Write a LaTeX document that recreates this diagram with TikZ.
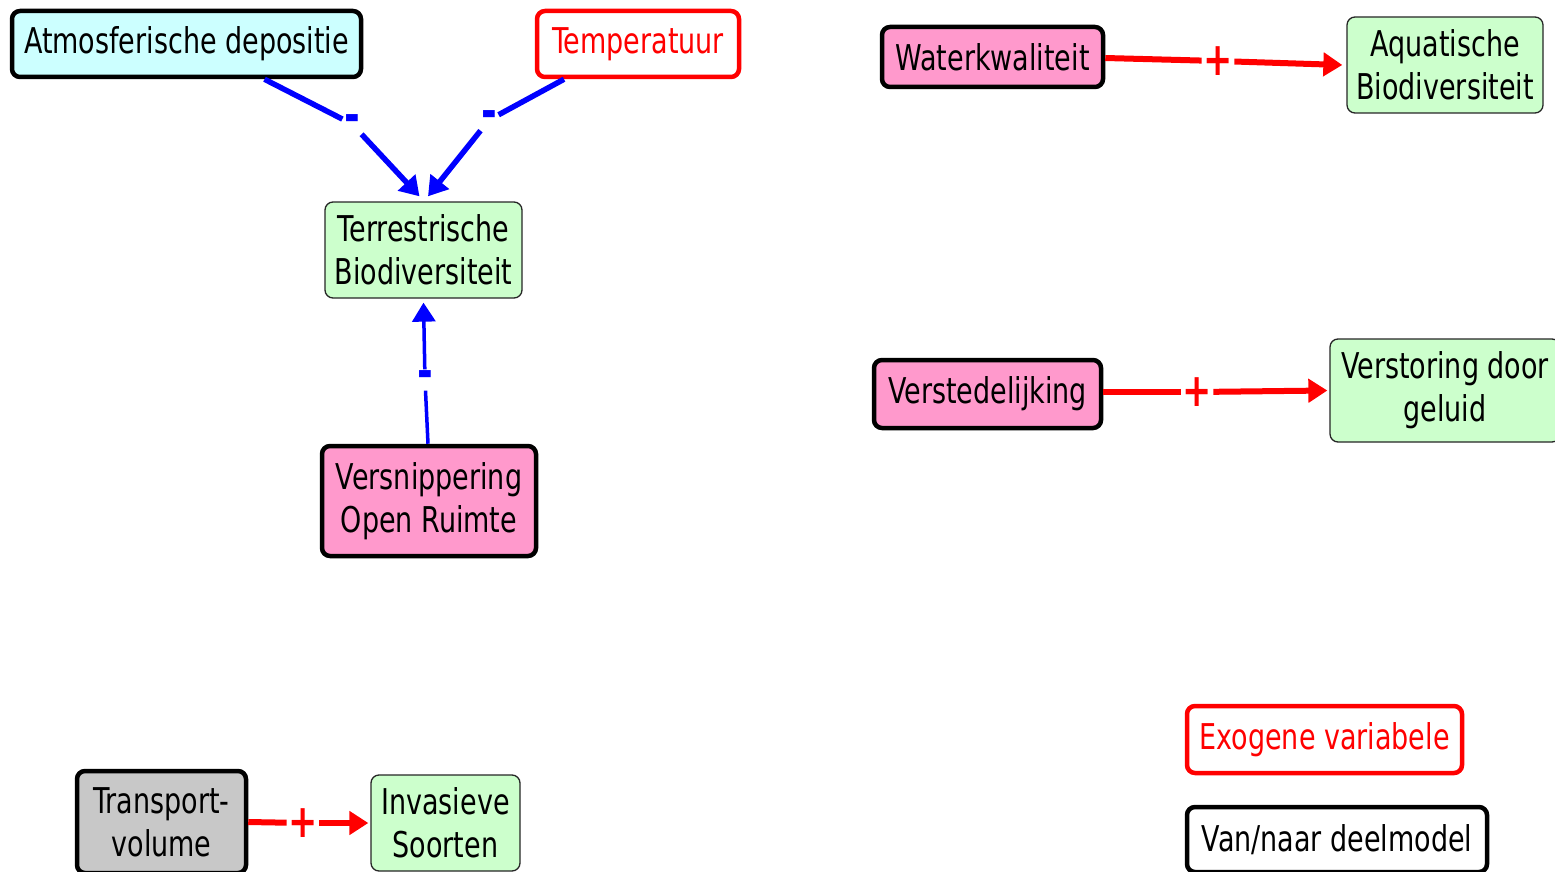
\documentclass[tikz,border=0pt]{standalone}
\usepackage{fontspec}
\setmainfont{DejaVu Sans}[FakeStretch=0.76]
\usetikzlibrary{arrows.meta}
\definecolor{pinkfill}{HTML}{FF99CC}
\definecolor{cyanfill}{HTML}{CCFFFF}
\definecolor{greenfill}{HTML}{CCFFCC}
\definecolor{grayfill}{HTML}{C8C8C8}
\definecolor{pureblue}{HTML}{0000FF}
\definecolor{purered}{HTML}{FF0000}
\tikzset{
  box/.style={rectangle, rounded corners=8pt, inner sep=0pt, align=center,
    font=\fontsize{35.5}{43}\selectfont},
  model/.style={box, draw=black, line width=4.5pt},
  exo/.style={box, draw=purered, line width=4.5pt, fill=white, text=purered},
  target/.style={box, draw=black!85, line width=1.3pt, fill=greenfill},
  negline/.style={draw=pureblue, line width=5.5pt},
  posline/.style={draw=purered, line width=6pt},
  tip/.style={-{Triangle[length=19pt,width=23pt]}},
  neglabel/.style={fill=white, text=pureblue, inner sep=1.5pt, yshift=-5pt,
    font=\bfseries\fontsize{50}{50}\selectfont},
  poslabel/.style={fill=white, text=purered, inner sep=1.5pt,
    font=\bfseries\fontsize{46}{46}\selectfont},
}
\begin{document}
\begin{tikzpicture}[x=1pt, y=-1pt]
\useasboundingbox (0,0) rectangle (1555,872);

% variables
\node[model, fill=cyanfill, minimum width=349pt, minimum height=66pt] (atm) at (186.5,44) {Atmosferische depositie};
\node[exo, minimum width=202pt, minimum height=66pt] (temp) at (638,44) {Temperatuur};
\node[target, minimum width=197pt, minimum height=96pt] (terr) at (423.5,250) {Terrestrische\\Biodiversiteit};
\node[model, fill=pinkfill, minimum width=214pt, minimum height=110pt] (versn) at (429,501) {Versnippering\\Open Ruimte};
\node[model, fill=pinkfill, minimum width=221pt, minimum height=60pt] (water) at (992.5,57) {Waterkwaliteit};
\node[target, minimum width=196pt, minimum height=96pt] (aqua) at (1445,65) {Aquatische\\Biodiversiteit};
\node[model, fill=pinkfill, minimum width=227pt, minimum height=68pt] (verst) at (987.5,394) {Verstedelijking};
\node[target, minimum width=230pt, minimum height=103pt] (geluid) at (1445,390.5) {Verstoring door\\geluid};
\node[model, fill=grayfill, minimum width=169pt, minimum height=102pt] (transp) at (161.5,822) {Transport-\\volume};
\node[target, minimum width=149pt, minimum height=96pt] (inv) at (445.5,823) {Invasieve\\Soorten};

% legend
\node[exo, minimum width=275pt, minimum height=67pt] (legexo) at (1324.5,739.5) {Exogene variabele};
\node[model, fill=white, minimum width=300pt, minimum height=65pt] (legmod) at (1337,839.5) {Van/naar deelmodel};

% sign labels
\node[neglabel] (l1) at (352,119) {-};
\node[neglabel] (l2) at (489,115) {-};
\node[neglabel] (l3) at (425,375) {-};
\node[poslabel] (l4) at (1218,61) {+};
\node[poslabel] (l5) at (1197,392) {+};
\node[poslabel] (l6) at (303,823) {+};

% negative influences
\draw[negline] ([xshift=78pt]atm.south) -- (l1);
\draw[negline, tip] (l1) -- ([xshift=-4pt,yshift=5pt]terr.north);
\draw[negline] ([xshift=-74pt]temp.south) -- (l2);
\draw[negline, tip] (l2) -- ([xshift=4.5pt,yshift=5pt]terr.north);
\draw[negline, line width=3.5pt] ([xshift=-1pt]versn.north) -- (l3);
\draw[negline, line width=3.5pt, tip] (l3) -- ([yshift=-4pt]terr.south);

% positive influences
\draw[posline] ([yshift=-1pt]water.east) -- (l4);
\draw[posline, tip] (l4) -- ([xshift=-4pt]aqua.west);
\draw[posline] ([yshift=2pt]verst.east) -- (l5);
\draw[posline, tip] (l5) -- ([xshift=-2pt]geluid.west);
\draw[posline] (transp.east) -- (l6);
\draw[posline, tip] (l6) -- ([xshift=-2pt]inv.west);
\end{tikzpicture}
\end{document}
